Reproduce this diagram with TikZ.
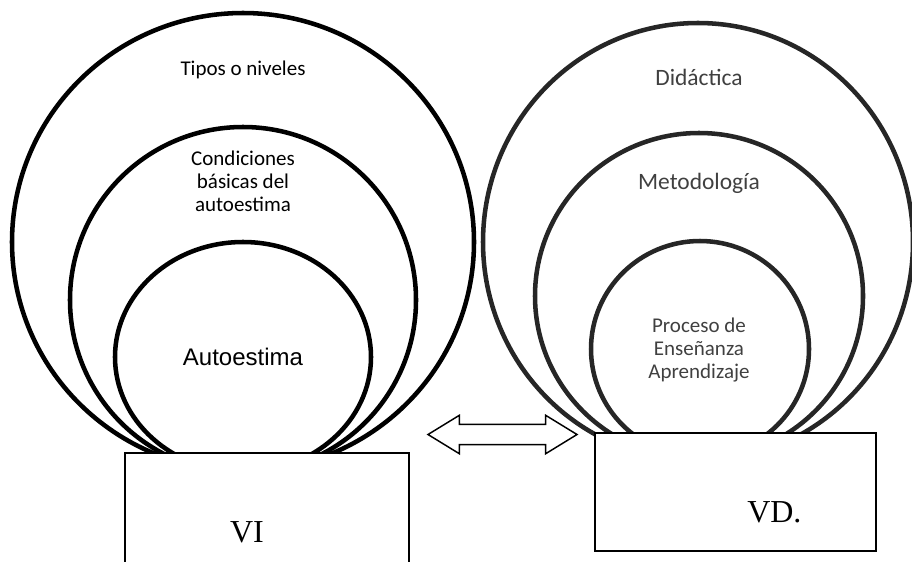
\documentclass[tikz,border=0pt]{standalone}
\usepackage{fontspec}
\setmainfont{Carlito}
\newfontfamily\arialfont{Liberation Sans}
\newfontfamily\timesfont{Liberation Serif}
\usetikzlibrary{shapes.arrows}
\definecolor{ringgray}{HTML}{262626}
\definecolor{labelgray}{HTML}{404040}
\tikzset{
  ring/.style={line width=3.4pt},
  varbox/.style={draw,fill=white,line width=1.1pt},
  ringlabel/.style={align=center,inner sep=0pt,font=\fontsize{15.75}{17.25}\selectfont},
  twoway/.style={draw,double arrow,line width=1.1pt,inner xsep=0pt,inner ysep=7.1pt,
    minimum height=111.75pt,
    double arrow head extend=6.75pt,double arrow tip angle=63}
}
\begin{document}
\begin{tikzpicture}[x=0.75pt,y=-0.75pt]
  \useasboundingbox (0,0) rectangle (912,561);
  % rings of VI
  \draw[ring] (243,242) ellipse (231 and 229);
  \draw[ring] (243,300) ellipse (173 and 173);
  \draw[ring] (243,357) ellipse (128 and 115);
  % rings of VD
  \draw[ring,ringgray] (698,242) ellipse (215 and 219);
  \draw[ring,ringgray] (699,296) ellipse (164 and 163);
  \draw[ring,ringgray] (700,349) ellipse (109 and 108);
  % the two boxes
  \draw[varbox] (125,453) rectangle (409,600);
  \draw[varbox,line width=1.4pt] (595,433) rectangle (876,551);
  \node[font=\timesfont\fontsize{24}{28}\selectfont,anchor=base,inner sep=0pt] (vi) at (247,542) {VI};
  \node[font=\timesfont\fontsize{24}{28}\selectfont,anchor=base west,inner sep=0pt] (vd) at (747,522) {VD.};
  % labels
  \node[ringlabel] (tipos) at (243,70) {Tipos o niveles};
  \node[ringlabel] (condiciones) at (243,181) {Condiciones\\básicas del\\autoestima};
  \node[inner sep=0pt,font=\arialfont\fontsize{18}{21}\selectfont] (autoestima) at (243,357) {Autoestima};
  \node[ringlabel,labelgray,font=\fontsize{17.6}{20}\selectfont] (didactica) at (699,77) {Didáctica};
  \node[ringlabel,labelgray,font=\fontsize{17.6}{20}\selectfont] (metodologia) at (699,183) {Metodología};
  \node[ringlabel,labelgray] (proceso) at (699,350) {Proceso de\\Enseñanza\\Aprendizaje};
  % arrow between the variables
  \node[twoway] (flecha) at (502.5,434.5) {};
\end{tikzpicture}
\end{document}
